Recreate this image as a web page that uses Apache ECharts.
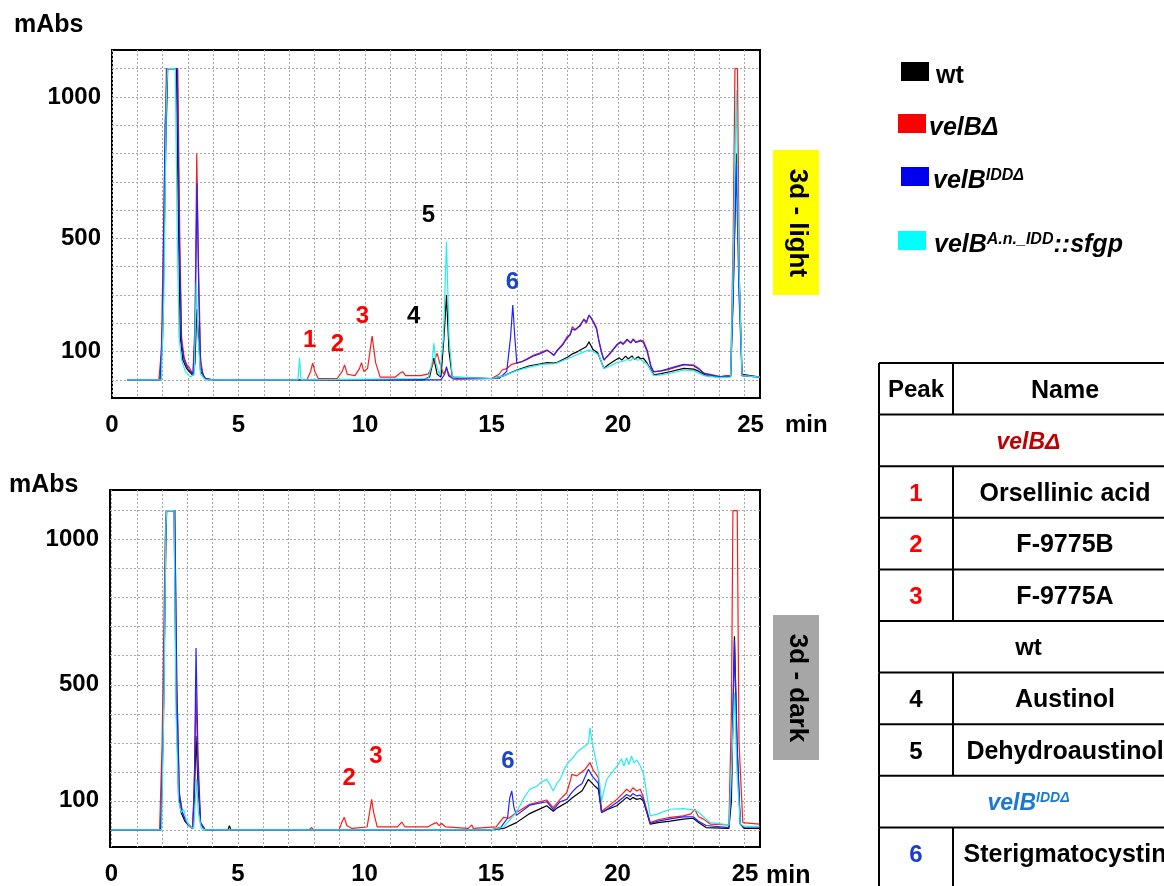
<!DOCTYPE html>
<html><head><meta charset="utf-8">
<script src="https://cdn.jsdelivr.net/npm/echarts@6/dist/echarts.min.js"></script>
<style>html,body{margin:0;padding:0;background:#fff}#c{width:1164px;height:886px}</style>
</head><body><div id="c"></div>
<script>
// ---------- DATA ----------
const seriesNames = ['wt', 'velBΔ', 'velBIDDΔ', 'velBA.n._IDD::sfgp'];
const xTickValues = [0, 5, 10, 15, 20, 25];
const yTickValues = [100, 500, 1000];

// 3d - light (time min, mAbs)
const lightWt = [[0.6,0],[1.9,0],[2.0,150],[2.12,800],[2.2,1100],[2.55,1100],[2.62,600],[2.7,150],[2.8,70],[2.95,40],[3.1,25],[3.2,15],[3.28,60],[3.35,250],[3.42,150],[3.5,30],[3.7,5],[4.0,0],[12.3,0],[12.55,10],[12.72,77],[12.85,20],[13.0,10],[13.12,150],[13.22,300],[13.32,100],[13.45,10],[15.0,5],[15.5,15],[16.0,35],[16.5,50],[17.0,58],[17.2,61],[17.46,59],[17.6,62],[18.0,80],[18.2,92],[18.4,100],[18.6,110],[18.75,118],[18.85,135],[19.0,108],[19.2,95],[19.44,41],[19.64,55],[19.9,70],[20.05,78],[20.15,70],[20.3,84],[20.4,74],[20.55,85],[20.65,73],[20.8,82],[20.9,74],[21.0,77],[21.15,59],[21.41,18],[21.7,22],[22.0,28],[22.6,41],[22.99,38],[23.2,30],[23.5,15],[24.0,10],[24.45,12],[24.55,300],[24.68,800],[24.78,400],[24.9,20],[25.61,10]];
const lightVelB = [[0.6,0],[1.85,0],[1.95,100],[2.05,600],[2.15,1100],[2.6,1100],[2.68,500],[2.75,150],[2.85,80],[2.95,55],[3.05,45],[3.2,20],[3.28,200],[3.35,800],[3.42,400],[3.5,80],[3.6,10],[3.8,0],[7.7,0],[7.85,30],[7.93,59],[8.02,30],[8.15,5],[8.9,5],[9.1,30],[9.19,53],[9.3,20],[9.6,15],[9.78,40],[9.86,61],[9.95,30],[10.1,40],[10.28,155],[10.42,60],[10.6,10],[11.2,10],[11.4,25],[11.49,29],[11.6,15],[12.2,15],[12.5,21],[12.7,60],[12.85,94],[12.95,60],[13.1,20],[13.22,40],[13.35,15],[13.6,5],[15.0,5],[15.3,20],[15.42,35],[15.6,40],[15.8,55],[16.0,60],[16.2,65],[16.4,75],[16.67,88],[16.9,95],[17.2,106],[17.35,95],[17.46,88],[17.6,106],[17.8,125],[17.99,153],[18.1,160],[18.19,188],[18.3,178],[18.39,182],[18.5,195],[18.65,212],[18.75,200],[18.85,230],[18.95,215],[19.04,205],[19.15,185],[19.24,141],[19.35,100],[19.44,71],[19.64,88],[19.8,105],[19.97,124],[20.1,132],[20.2,125],[20.36,141],[20.5,132],[20.6,145],[20.7,134],[20.89,141],[21.0,138],[21.15,106],[21.3,50],[21.41,29],[21.7,32],[21.94,35],[22.3,45],[22.6,53],[22.99,53],[23.2,40],[23.4,24],[24.05,12],[24.25,15],[24.45,15],[24.55,500],[24.62,1100],[24.72,1100],[24.8,300],[24.9,15],[25.61,10]];
const lightIdd = [[0.6,0],[1.9,0],[2.0,200],[2.1,900],[2.18,1100],[2.58,1100],[2.66,500],[2.75,130],[2.85,70],[3.0,40],[3.2,20],[3.28,150],[3.36,695],[3.43,300],[3.5,50],[3.65,5],[4.0,0],[13.0,0],[13.15,20],[13.22,47],[13.3,15],[13.5,3],[15.3,5],[15.6,30],[15.75,150],[15.84,265],[15.92,150],[16.0,59],[16.2,64],[16.4,72],[16.67,85],[16.9,92],[17.2,104],[17.35,96],[17.46,86],[17.6,104],[17.8,122],[17.99,148],[18.1,158],[18.19,180],[18.3,176],[18.39,185],[18.5,190],[18.65,215],[18.75,205],[18.85,228],[18.95,218],[19.04,200],[19.15,180],[19.24,138],[19.35,95],[19.44,70],[19.64,90],[19.8,108],[19.97,126],[20.1,135],[20.2,128],[20.36,144],[20.5,130],[20.6,143],[20.7,132],[20.89,138],[21.0,132],[21.15,100],[21.3,45],[21.41,28],[21.7,32],[21.94,38],[22.3,48],[22.6,55],[22.99,50],[23.2,38],[23.4,22],[24.05,10],[24.45,12],[24.55,300],[24.67,767],[24.78,300],[24.9,15],[25.61,10]];
const lightSfgp = [[0.6,0],[1.95,0],[2.05,300],[2.15,1000],[2.2,1100],[2.5,1100],[2.58,500],[2.65,150],[2.75,70],[2.9,30],[3.1,10],[3.25,20],[3.33,343],[3.4,150],[3.5,20],[3.7,0],[7.35,0],[7.41,77],[7.47,0],[12.5,5],[12.65,60],[12.72,130],[12.8,60],[12.95,15],[13.1,150],[13.22,489],[13.32,150],[13.45,10],[15.0,5],[15.5,15],[16.0,33],[16.5,45],[17.0,55],[17.46,57],[17.6,60],[18.0,75],[18.4,90],[18.85,106],[19.0,100],[19.24,88],[19.44,40],[19.7,50],[19.97,62],[20.2,66],[20.36,72],[20.5,68],[20.6,78],[20.75,70],[20.89,72],[21.15,55],[21.41,15],[21.7,18],[22.3,28],[22.6,35],[22.99,32],[23.4,15],[24.0,8],[24.45,10],[24.55,400],[24.67,1025],[24.78,400],[24.9,15],[25.61,10]];

// 3d - dark
const darkWt = [[0,0],[1.95,0],[2.05,400],[2.15,1000],[2.18,1100],[2.47,1100],[2.55,500],[2.65,120],[2.75,60],[2.9,30],[3.05,15],[3.2,5],[3.27,100],[3.34,323],[3.42,150],[3.52,20],[3.7,0],[4.6,0],[4.66,14],[4.72,0],[15.0,0],[15.5,5],[16.0,25],[16.5,55],[17.0,75],[17.2,83],[17.46,64],[17.6,75],[17.99,94],[18.2,110],[18.39,122],[18.6,135],[18.85,174],[19.0,160],[19.1,151],[19.24,140],[19.37,60],[19.6,70],[19.97,83],[20.2,100],[20.36,112],[20.5,104],[20.6,112],[20.76,105],[20.9,108],[21.02,100],[21.29,20],[21.6,25],[22.08,30],[22.6,37],[22.99,40],[23.2,25],[23.5,8],[24.4,5],[24.5,100],[24.62,667],[24.72,300],[24.85,20],[25.0,5],[25.61,5]];
const darkVelB = [[0,0],[1.9,0],[2.0,300],[2.12,1000],[2.16,1100],[2.5,1100],[2.58,500],[2.68,130],[2.8,60],[2.95,30],[3.1,15],[3.2,5],[3.27,150],[3.34,472],[3.42,200],[3.52,25],[3.7,0],[7.8,0],[7.91,8],[8.0,0],[9.0,2],[9.12,30],[9.2,43],[9.3,15],[9.5,5],[10.1,10],[10.2,60],[10.28,105],[10.36,60],[10.5,10],[11.3,10],[11.47,27],[11.6,10],[12.5,10],[12.7,20],[12.85,25],[12.95,15],[13.05,22],[13.2,10],[14.1,5],[14.24,17],[14.3,5],[15.2,10],[15.49,43],[15.7,40],[16.0,60],[16.53,88],[17.2,103],[17.46,77],[17.73,105],[17.99,128],[18.15,175],[18.19,191],[18.39,186],[18.6,200],[18.72,209],[18.91,232],[19.04,205],[19.11,197],[19.24,180],[19.37,64],[19.57,77],[19.97,105],[20.2,125],[20.36,140],[20.5,130],[20.6,145],[20.76,134],[20.9,140],[21.02,112],[21.29,25],[21.6,35],[22.08,43],[22.6,48],[22.9,55],[23.05,71],[23.2,45],[23.4,37],[23.66,20],[24.4,17],[24.5,400],[24.56,1100],[24.73,1100],[24.8,300],[24.95,25],[25.61,20]];
const darkIdd = [[0,0],[1.95,0],[2.05,350],[2.14,1000],[2.17,1100],[2.5,1100],[2.58,500],[2.68,120],[2.8,60],[2.95,25],[3.1,10],[3.22,5],[3.28,200],[3.34,627],[3.42,250],[3.52,25],[3.7,0],[15.0,0],[15.4,10],[15.65,40],[15.74,110],[15.82,134],[15.9,80],[16.0,50],[16.53,85],[17.2,97],[17.46,70],[17.73,97],[17.99,105],[18.2,130],[18.39,147],[18.6,160],[18.85,209],[19.0,185],[19.11,174],[19.24,160],[19.37,60],[19.6,72],[19.97,94],[20.2,110],[20.36,122],[20.5,115],[20.6,125],[20.76,117],[20.9,120],[21.02,105],[21.29,22],[21.6,30],[22.08,38],[22.6,45],[22.99,45],[23.2,30],[23.5,15],[24.4,8],[24.5,150],[24.62,655],[24.72,300],[24.85,20],[25.0,10],[25.61,10]];
const darkSfgp = [[0,0],[1.98,0],[2.08,500],[2.15,1050],[2.18,1100],[2.47,1100],[2.55,400],[2.65,100],[2.75,60],[2.85,70],[2.95,35],[3.1,10],[3.25,5],[3.3,80],[3.36,174],[3.43,60],[3.55,5],[3.7,0],[15.0,0],[15.5,10],[16.0,60],[16.3,110],[16.53,140],[16.8,150],[17.0,165],[17.2,174],[17.3,160],[17.46,134],[17.6,160],[17.73,174],[17.9,210],[18.05,232],[18.2,245],[18.39,266],[18.5,275],[18.72,289],[18.85,300],[18.91,352],[19.0,300],[19.11,254],[19.24,200],[19.37,100],[19.57,174],[19.8,200],[20.03,226],[20.15,245],[20.25,220],[20.36,249],[20.45,225],[20.55,255],[20.65,230],[20.76,241],[20.9,220],[21.02,197],[21.29,48],[21.6,55],[22.08,71],[22.6,73],[22.9,70],[23.13,66],[23.4,45],[23.66,25],[24.4,17],[24.5,200],[24.62,472],[24.72,200],[24.85,20],[25.0,12],[25.61,12]];

// peak annotations (label, time, mAbs)
const lightPeakLabels = ['1','2','3','4','5','6'];
const lightPeakT = [7.81, 8.91, 9.90, 11.92, 12.51, 15.83];
const lightPeakV = [141, 124, 226, 226, 580, 343];
const lightPeakGroup = ['velB','velB','velB','wt','wt','idd'];
const darkPeakLabels = ['2','3','6'];
const darkPeakT = [9.39, 10.45, 15.67];
const darkPeakV = [178, 253, 236];
const darkPeakGroup = ['velB','velB','idd'];

// table
const tablePeaks = ['1','2','3','4','5','6'];
const tableNames = ['Orsellinic acid','F-9775B','F-9775A','Austinol','Dehydroaustinol','Sterigmatocystin'];
const tablePeakGroup = ['velB','velB','velB','wt','wt','idd'];

// ---------- STYLE / LAYOUT ----------
const FONT = '"Liberation Sans", Arial, sans-serif';
const lineColors = ['#000000', '#ff1a1a', '#2222ff', '#22eeee'];
const legendColors = ['#000000', '#ff0000', '#0000ee', '#00ffff'];
const peakColors = {velB: '#ff0000', wt: '#000000', idd: '#1a44cc'};
const tablePeakColors = {velB: '#ff0000', wt: '#000000', idd: '#1a3fd0'};

const richLegend = {
  b: {fontFamily: FONT, fontWeight: 'bold', fontSize: 25, color: '#000', lineHeight: 26},
  i: {fontFamily: FONT, fontWeight: 'bold', fontStyle: 'italic', fontSize: 25, color: '#000', lineHeight: 26},
  s: {fontFamily: FONT, fontWeight: 'bold', fontStyle: 'italic', fontSize: 16, color: '#000', verticalAlign: 'top', lineHeight: 16}
};
const legendText = {
  'wt': '{b|wt}',
  'velBΔ': '{i|velBΔ}',
  'velBIDDΔ': '{i|velB}{s|IDDΔ}',
  'velBA.n._IDD::sfgp': '{i|velB}{s|A.n._IDD}{i|::sfgp}'
};
const legendPos = [[901, 62], [898, 114], [901, 167], [898, 231]];
const legendTextPad = [2, -2, -1, 3];

const grids = [
  {left: 112, top: 50, width: 648, height: 348},
  {left: 110, top: 490, width: 650, height: 358}
];
const xRanges = [[0, 25.61], [-0.06, 25.63]];
const yRanges = [[-64, 1166], [-59, 1171]];
const lastLabelShift = [12, 2];

function mkX(i) {
  return {
    type: 'value', gridIndex: i, min: xRanges[i][0], max: xRanges[i][1],
    axisLine: {show: false},
    axisTick: {show: false, customValues: Array.from({length: 26}, (_, k) => k)},
    axisLabel: {customValues: xTickValues, margin: 15, fontFamily: FONT, fontWeight: 'bold', fontSize: 24, color: '#000',
      formatter: v => v === 25 ? '{p|25}' : String(v),
      rich: {p: {fontFamily: FONT, fontWeight: 'bold', fontSize: 24, color: '#000', padding: [0, 0, 0, lastLabelShift[i]]}}},
    splitLine: {show: true, lineStyle: {color: '#a8a8a8', type: [2, 2], width: 1}}
  };
}
function mkY(i) {
  return {
    type: 'value', gridIndex: i, min: yRanges[i][0], max: yRanges[i][1],
    axisLine: {show: false},
    axisTick: {show: false, customValues: Array.from({length: 12}, (_, k) => k * 100)},
    axisLabel: {customValues: yTickValues, margin: 11, fontFamily: FONT, fontWeight: 'bold', fontSize: 24, color: '#000',
      formatter: v => String(v), padding: [0, 0, 6, 0]},
    splitLine: {show: true, lineStyle: {color: '#a8a8a8', type: [2, 2], width: 1}}
  };
}

const dataSets = [[lightWt, lightVelB, lightIdd, lightSfgp], [darkWt, darkVelB, darkIdd, darkSfgp]];
const series = [];
dataSets.forEach((set, gi) => {
  set.forEach((d, si) => {
    series.push({
      name: seriesNames[si], type: 'line', xAxisIndex: gi, yAxisIndex: gi,
      data: d, showSymbol: false, symbol: 'none', clip: true, silent: true,
      lineStyle: {color: lineColors[si], width: 1.2}, itemStyle: {color: legendColors[si]},
      z: 2 + si
    });
  });
});
function peakSeries(gi, labels, ts, vs, groups) {
  return {
    type: 'scatter', xAxisIndex: gi, yAxisIndex: gi, silent: true, symbolSize: 0, z: 10,
    data: labels.map((l, k) => ({
      name: l, value: [ts[k], vs[k]],
      itemStyle: {color: peakColors[groups[k]]},
      label: {show: true, position: 'inside', formatter: l, fontFamily: FONT, fontWeight: 'bold', fontSize: 24,
        color: peakColors[groups[k]], textBorderWidth: 0, opacity: 1}
    }))
  };
}
series.push(peakSeries(0, lightPeakLabels, lightPeakT, lightPeakV, lightPeakGroup));
series.push(peakSeries(1, darkPeakLabels, darkPeakT, darkPeakV, darkPeakGroup));

const legends = seriesNames.map((n, k) => ({
  data: [n], left: legendPos[k][0], top: legendPos[k][1], orient: 'vertical', padding: 0,
  icon: 'rect', itemWidth: 28, itemHeight: 19, itemGap: 0, selectedMode: false,
  formatter: name => legendText[name], textStyle: {rich: richLegend, padding: [9, 0, 0, legendTextPad[k]]}
}));

// ---------- TABLE (graphic) ----------
const graphics = [];
const TL = 879, TD = 953, TR = 1178, TT = 363, RH = 51.6;
const groupRich = {
  velB: {text: '{i|velBΔ}', color: '#c00000'},
  wt: {text: '{n|wt}', color: '#000'},
  idd: {text: '{i|velB}{s|IDDΔ}', color: '#1a7ad0'}
};
const tRows = [{kind: 'header'}];
tablePeaks.forEach((p, k) => {
  const g = tablePeakGroup[k];
  if (k === 0 || tablePeakGroup[k - 1] !== g) tRows.push({kind: 'group', g});
  tRows.push({kind: 'peak', k});
});
const lineStyle = {stroke: '#000', lineWidth: 2};
tRows.forEach((r, ri) => {
  const y0 = TT + ri * RH, y1 = y0 + RH, cy = y0 + RH / 2 + 2;
  graphics.push({type: 'line', shape: {x1: TL, y1: y0, x2: TR, y2: y0}, style: lineStyle, silent: true});
  graphics.push({type: 'line', shape: {x1: TL, y1: y0, x2: TL, y2: y1}, style: lineStyle, silent: true});
  const base = {fontFamily: FONT, fontWeight: 'bold', fontSize: 24, fill: '#000', align: 'center', verticalAlign: 'middle'};
  if (r.kind === 'header') {
    graphics.push({type: 'line', shape: {x1: TD, y1: y0, x2: TD, y2: y1}, style: lineStyle, silent: true});
    graphics.push({type: 'text', x: (TL + TD) / 2, y: cy, style: Object.assign({}, base, {text: 'Peak'}), silent: true});
    graphics.push({type: 'text', x: 1065, y: cy, style: Object.assign({}, base, {text: 'Name', fontSize: 25}), silent: true});
  } else if (r.kind === 'group') {
    const gr = groupRich[r.g];
    graphics.push({type: 'text', x: (TL + TR) / 2, y: cy, silent: true, style: Object.assign({}, base, {
      text: gr.text,
      rich: {
        i: {fontFamily: FONT, fontWeight: 'bold', fontStyle: 'italic', fontSize: 23, fill: gr.color, lineHeight: 24},
        n: {fontFamily: FONT, fontWeight: 'bold', fontSize: 24, fill: gr.color, lineHeight: 24},
        s: {fontFamily: FONT, fontWeight: 'bold', fontStyle: 'italic', fontSize: 14, fill: gr.color, verticalAlign: 'top', lineHeight: 14}
      }
    })});
  } else {
    const last = ri === tRows.length - 1;
    graphics.push({type: 'line', shape: {x1: TD, y1: y0, x2: TD, y2: y1 + (last ? 20 : 0)}, style: lineStyle, silent: true});
    if (last) graphics.push({type: 'line', shape: {x1: TL, y1: y1, x2: TL, y2: y1 + 20}, style: lineStyle, silent: true});
    graphics.push({type: 'text', x: (TL + TD) / 2, y: cy, style: Object.assign({}, base, {text: tablePeaks[r.k], fill: tablePeakColors[tablePeakGroup[r.k]]}), silent: true});
    graphics.push({type: 'text', x: 1065, y: cy, style: Object.assign({}, base, {text: tableNames[r.k], fontSize: 25}), silent: true});
  }
});

// axis unit texts and condition tags
const txt = (x, y, s, extra) => ({type: 'text', x, y, silent: true, style: Object.assign({text: s, fontFamily: FONT, fontWeight: 'bold', fontSize: 25, fill: '#000', align: 'left', verticalAlign: 'middle'}, extra || {})});
graphics.push(txt(14, 25, 'mAbs'));
graphics.push(txt(9, 485, 'mAbs'));
graphics.push(txt(785, 425, 'min', {fontSize: 24}));
graphics.push(txt(766, 876, 'min', {fontSize: 25}));
graphics.push({type: 'rect', shape: {x: 773, y: 150, width: 46, height: 145}, style: {fill: '#ffff00'}, silent: true});
graphics.push({type: 'rect', shape: {x: 773, y: 615, width: 46, height: 145}, style: {fill: '#a6a6a6'}, silent: true});
graphics.push({type: 'text', x: 797, y: 223, rotation: -Math.PI / 2, silent: true, style: {text: '3d - light', fontFamily: FONT, fontSize: 26, fontWeight: 'bold', fill: '#000', align: 'center', verticalAlign: 'middle'}});
graphics.push({type: 'text', x: 797, y: 688, rotation: -Math.PI / 2, silent: true, style: {text: '3d - dark', fontFamily: FONT, fontSize: 26, fontWeight: 'bold', fill: '#000', align: 'center', verticalAlign: 'middle'}});

const chart = echarts.init(document.getElementById('c'), null, {renderer: 'canvas'});
chart.setOption({
  animation: false,
  backgroundColor: '#fff',
  grid: grids.map(g => Object.assign({show: true, borderColor: '#000', borderWidth: 2, backgroundColor: 'rgba(0,0,0,0)', containLabel: false}, g)),
  xAxis: [mkX(0), mkX(1)],
  yAxis: [mkY(0), mkY(1)],
  legend: legends,
  series: series,
  graphic: graphics
});
</script></body></html>
